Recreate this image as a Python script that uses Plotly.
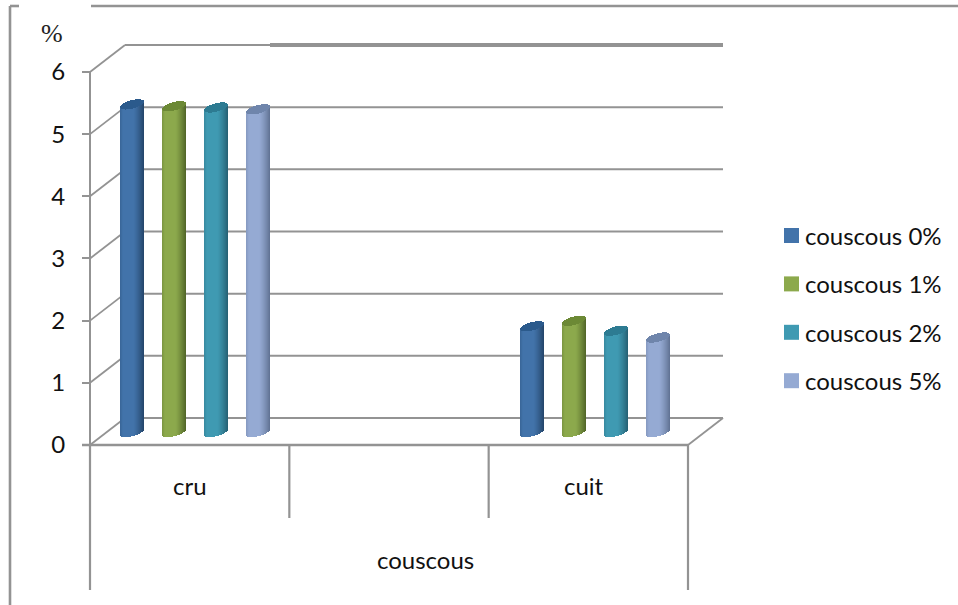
import plotly.graph_objects as go

# Data
groups = ["cru", "cuit"]
outer_group = "couscous"
series_names = ["couscous 0%", "couscous 1%", "couscous 2%", "couscous 5%"]
couscous_0 = [5.27, 1.70]
couscous_1 = [5.24, 1.79]
couscous_2 = [5.22, 1.63]
couscous_5 = [5.19, 1.52]
y_ticks = [0, 1, 2, 3, 4, 5, 6]

# Colours: face, shaded edge, top cap
palette = [
    ("#4273aa", "#234468", "#2b5a8c"),
    ("#8ca94c", "#4f6427", "#6c8935"),
    ("#3f9ab2", "#255f72", "#2d7b92"),
    ("#95aad3", "#5f7192", "#6f85ab"),
]
GRID = "#939393"

# Layout geometry (x axis runs in canvas pixels, y axis in percent)
W, H = 958, 605
UNIT = 62.17
ZERO_PX = 445
Y_RANGE = [(ZERO_PX - H) / UNIT, ZERO_PX / UNIT]
FRONT_L, FRONT_R = 90, 688
DEPTH_X, DEPTH_Y = 35, 27 / UNIT
SLOT_L = [120, 520]
SLOT_STEP = 42
CYL_W = 24
BASE = 13 / UNIT
TILT = 2.8 / UNIT
CAP_B = 4.3 / UNIT


def mix(a, b, f):
    ca = [int(a[i:i + 2], 16) for i in (1, 3, 5)]
    cb = [int(b[i:i + 2], 16) for i in (1, 3, 5)]
    return "rgb(%d,%d,%d)" % tuple(round(p + (q - p) * f) for p, q in zip(ca, cb))


def shade(t):
    if t < -0.75:
        return 0.3 * (-0.75 - t) / 0.25
    if t < 0.1:
        return 0.0
    return ((t - 0.1) / 0.9) ** 1.3


fig = go.Figure()
all_values = [couscous_0, couscous_1, couscous_2, couscous_5]

for s, (name, values, (face, dark, cap)) in enumerate(zip(series_names, all_values, palette)):
    xs, bases, heights, colors = [], [], [], []
    cap_bases, cap_heights = [], []
    centres = []
    for g, v in enumerate(values):
        left = SLOT_L[g] + s * SLOT_STEP
        centres.append(left + CYL_W / 2)
        for i in range(CYL_W):
            t = (i + 0.5) / CYL_W * 2 - 1
            arc = CAP_B * (1 - t * t) ** 0.5
            bottom = BASE + TILT * t - arc
            top_low = BASE + v + TILT * t - arc
            xs.append(left + i + 0.5)
            bases.append(bottom)
            heights.append(top_low - bottom)
            colors.append(mix(face, dark, shade(t)))
            cap_bases.append(top_low)
            cap_heights.append(2 * arc)
    # Core bar carries the value
    fig.add_trace(go.Bar(
        x=centres, y=values, base=[BASE] * len(values), width=8, name=name,
        marker=dict(color=face, line=dict(width=0)), showlegend=False,
    ))
    # Cylinder shading, one pixel-wide slice at a time
    fig.add_trace(go.Bar(
        x=xs, y=heights, base=bases, width=1,
        marker=dict(color=colors, line=dict(width=0)),
        showlegend=False, hoverinfo="skip",
    ))
    fig.add_trace(go.Bar(
        x=xs, y=cap_heights, base=cap_bases, width=1,
        marker=dict(color=cap, line=dict(width=0)),
        showlegend=False, hoverinfo="skip",
    ))


def line(x0, y0, x1, y1, width=2.2, color=GRID):
    return dict(type="line", x0=x0, y0=y0, x1=x1, y1=y1, xref="x", yref="y",
                layer="below", line=dict(color=color, width=width))


shapes = []
back_l, back_r = FRONT_L + DEPTH_X, FRONT_R + DEPTH_X
for k in y_ticks:
    # Side wall diagonal and back wall rule
    shapes.append(line(FRONT_L, k, back_l, k + DEPTH_Y, 1.8))
    shapes.append(line(back_l, k + DEPTH_Y, back_r, k + DEPTH_Y, 2))
shapes.append(line(270, 6 + DEPTH_Y, back_r, 6 + DEPTH_Y, 4))
shapes.append(line(FRONT_L, 0, FRONT_L, 6, 2))
shapes.append(line(FRONT_L - 8, 0, FRONT_R, 0, 2.6))
shapes.append(line(FRONT_R, 0, back_r, DEPTH_Y, 1.8))

# Category dividers below the floor
inner_drop = -73 / UNIT
outer_drop = -145 / UNIT
step = (FRONT_R - FRONT_L) / 3
shapes.append(line(FRONT_L, 0, FRONT_L, outer_drop, 2.2))
shapes.append(line(FRONT_L + step, 0, FRONT_L + step, inner_drop, 2.2))
shapes.append(line(FRONT_L + 2 * step, 0, FRONT_L + 2 * step, inner_drop, 2.2))
shapes.append(line(FRONT_R, 0, FRONT_R, outer_drop, 2.2))

# Outer chart frame, open on two sides
frame_y = (ZERO_PX - 6) / UNIT
shapes.append(line(10, frame_y, 19, frame_y, 2.6))
shapes.append(line(91, frame_y, W, frame_y, 2.6))
shapes.append(line(10, frame_y, 10, Y_RANGE[0], 2.6))

text_font = dict(family="Lato", size=24, color="#111111")
annotations = [
    dict(x=FRONT_L + step * 0.5, y=-40.5 / UNIT, text=groups[0], showarrow=False, font=text_font),
    dict(x=584, y=-40.5 / UNIT, text=groups[1], showarrow=False, font=text_font),
    dict(x=425, y=-114.5 / UNIT, text=outer_group, showarrow=False, font=text_font),
    dict(x=52, y=(ZERO_PX - 33) / UNIT, text="%", showarrow=False,
         font=dict(family="Liberation Serif", size=26, color="#222222")),
]

# Legend column: swatch and label per series
LEG_X, LEG_SIZE, LEG_TEXT_X = 784, 15, 803
LEG_TOP_PX, LEG_STEP_PX = 228, 48.4
for s, (name, colours) in enumerate(zip(series_names, palette)):
    top = (ZERO_PX - (LEG_TOP_PX + s * LEG_STEP_PX)) / UNIT
    shapes.append(dict(type="rect", x0=LEG_X, x1=LEG_X + LEG_SIZE, y0=top - LEG_SIZE / UNIT, y1=top,
                       xref="x", yref="y", fillcolor=colours[0], line=dict(width=0), layer="below"))
    annotations.append(dict(x=LEG_TEXT_X, y=top - 0.5 * LEG_SIZE / UNIT, text=name, showarrow=False,
                            xanchor="left", font=text_font))

fig.update_layout(
    width=W, height=H, margin=dict(l=0, r=0, t=0, b=0),
    paper_bgcolor="white", plot_bgcolor="white",
    barmode="overlay", bargap=0, showlegend=False,
    shapes=shapes, annotations=annotations,
    xaxis=dict(range=[0, W], visible=False, fixedrange=True),
    yaxis=dict(range=Y_RANGE, anchor="free", position=FRONT_L / W, tickmode="array",
               tickvals=y_ticks, ticktext=[str(k) for k in y_ticks],
               ticks="outside", ticklen=8, tickwidth=2, tickcolor=GRID,
               ticklabelstandoff=12, showgrid=False, zeroline=False, showline=False,
               fixedrange=True, tickfont=dict(family="Lato", size=24, color="#111111")),
)

fig.write_html("out.html")
